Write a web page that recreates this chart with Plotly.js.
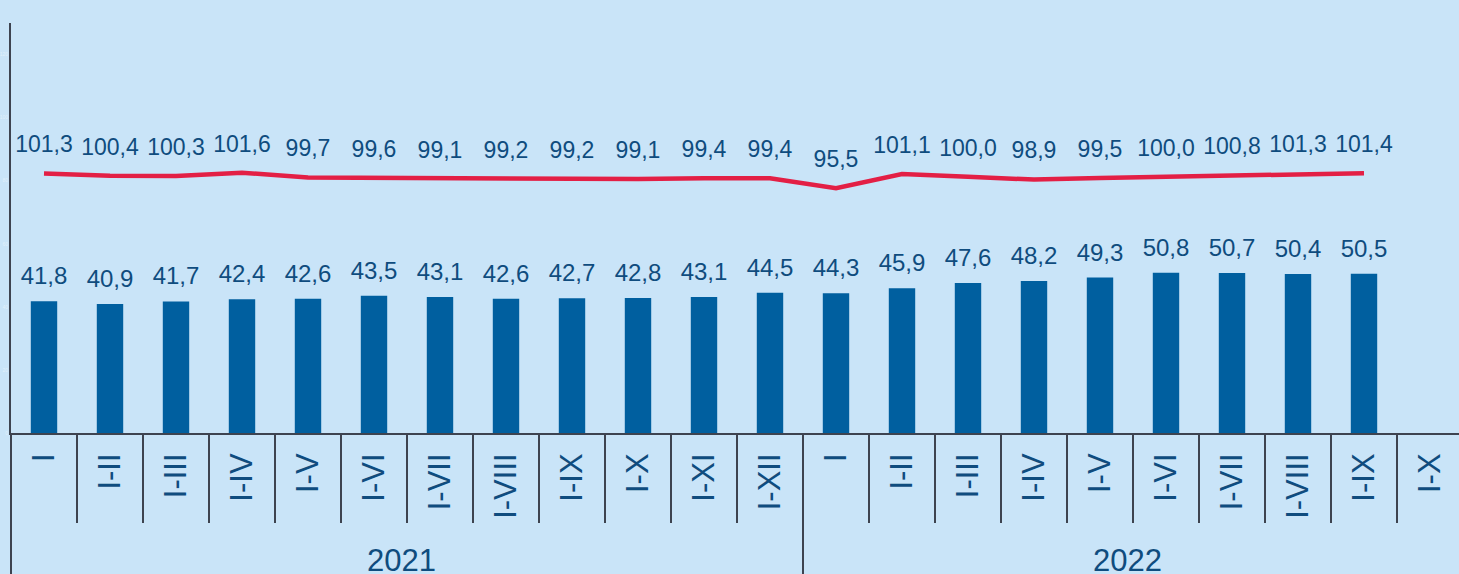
<!DOCTYPE html>
<html>
<head>
<meta charset="utf-8">
<script src="https://cdn.plot.ly/plotly-3.0.1.min.js"></script>
<style>
  html, body { margin: 0; padding: 0; background: #c9e4f8; overflow: hidden; }
  #chart { width: 1464px; height: 574px; }
</style>
</head>
<body>
<div id="chart"></div>
<script>
const years = ['2021','2021','2021','2021','2021','2021','2021','2021','2021','2021','2021','2021',
               '2022','2022','2022','2022','2022','2022','2022','2022','2022','2022'];
const periods = ['I','I-II','I-III','I-IV','I-V','I-VI','I-VII','I-VIII','I-IX','I-X','I-XI','I-XII',
                 'I','I-II','I-III','I-IV','I-V','I-VI','I-VII','I-VIII','I-IX','I-X'];
const barValues = [41.8, 40.9, 41.7, 42.4, 42.6, 43.5, 43.1, 42.6, 42.7, 42.8, 43.1, 44.5,
                   44.3, 45.9, 47.6, 48.2, 49.3, 50.8, 50.7, 50.4, 50.5, null];
const lineValues = [101.3, 100.4, 100.3, 101.6, 99.7, 99.6, 99.1, 99.2, 99.2, 99.1, 99.4, 99.4,
                    95.5, 101.1, 100.0, 98.9, 99.5, 100.0, 100.8, 101.3, 101.4, null];

const X = [years, periods];
const FONT = 'Liberation Sans, Arial, sans-serif';
const TEXTCOL = '#0f4c7e';
const AXCOL = '#3d4350';

const traces = [
  {
    type: 'bar', x: X, y: barValues,
    marker: { color: '#005f9f' },
    hoverinfo: 'skip'
  },
  {
    type: 'scatter', mode: 'markers+text', x: X, y: barValues,
    marker: { size: 16, opacity: 0 },
    texttemplate: '%{y:.1f}', textposition: 'top center',
    textfont: { family: FONT, size: 24, color: TEXTCOL },
    hoverinfo: 'skip'
  },
  {
    type: 'scatter', mode: 'lines+markers+text', x: X, y: lineValues, yaxis: 'y2',
    line: { color: '#e31f45', width: 4.5 },
    marker: { size: 23, opacity: 0 },
    texttemplate: '%{y:.1f}', textposition: 'top center',
    textfont: { family: FONT, size: 23, color: TEXTCOL },
    hoverinfo: 'skip'
  }
];

const layout = {
  width: 1464, height: 574,
  margin: { l: 11, r: 1, t: 23, b: 141 },
  paper_bgcolor: '#c9e4f8', plot_bgcolor: '#c9e4f8',
  showlegend: false,
  separators: ', ',
  bargap: 0.6,
  font: { family: FONT, color: TEXTCOL },
  xaxis: {
    type: 'multicategory',
    range: [-0.5, 21.5],
    showline: true, linecolor: AXCOL, linewidth: 2,
    ticks: 'outside', tickson: 'boundaries', ticklen: 88, tickwidth: 2, tickcolor: AXCOL,
    tickangle: -90,
    ticklabelstandoff: 6,
    tickfont: { family: FONT, size: 31, color: TEXTCOL },
    showdividers: true, dividercolor: AXCOL, dividerwidth: 2,
    showgrid: false, zeroline: false
  },
  yaxis: {
    range: [0, 130], dtick: 20,
    showline: true, linecolor: AXCOL, linewidth: 2,
    showgrid: false, zeroline: false, ticks: '',
    tickfont: { family: FONT, size: 5, color: 'rgba(255,255,255,0.45)' }
  },
  yaxis2: {
    range: [0, 160], overlaying: 'y', side: 'right', visible: false
  }
};

Plotly.newPlot('chart', traces, layout, { staticPlot: true, displayModeBar: false });
</script>
</body>
</html>
